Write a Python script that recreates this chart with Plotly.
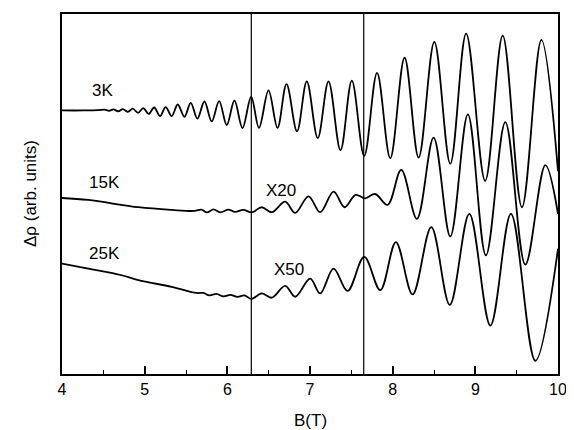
import plotly.graph_objects as go

# ---- data (B in tesla, delta-rho in arbitrary units) ----
b_3k = [4.0, 4.258, 4.439, 4.515, 4.569, 4.623, 4.680, 4.737, 4.797, 4.857, 4.920, 4.983,
        5.048, 5.115, 5.186, 5.254, 5.327, 5.400, 5.481, 5.557, 5.638, 5.723, 5.811, 5.901,
        5.993, 6.086, 6.183, 6.288, 6.383, 6.498, 6.607, 6.716, 6.843, 6.961, 7.094, 7.224,
        7.369, 7.506, 7.656, 7.811, 7.971, 8.144, 8.314, 8.504, 8.697, 8.889, 9.119, 9.331,
        9.564, 9.799, 10.0]
r_3k = [265, 265, 265.3, 265.8, 264.7, 266.0, 264.2, 266.3, 263.6, 266.8, 262.6, 267.4,
        261.5, 268, 259.3, 268.3, 259.3, 271, 258.7, 272.7, 256.7, 274, 254, 274.3,
        250.3, 275, 247.3, 278.7, 247.5, 285.3, 247.5, 291.5, 244, 294.3, 237.2, 294.3,
        225, 295, 219.3, 302.7, 217, 318, 217.7, 334, 211.5, 342.3, 194.3, 340.3,
        167.7, 336, 204]

b_15k = [4.0, 4.318, 4.924, 5.327, 5.602, 5.686, 5.753, 5.832, 5.913, 6.013, 6.094, 6.195,
         6.295, 6.416, 6.538, 6.700, 6.821, 6.982, 7.123, 7.285, 7.418, 7.551, 7.668, 7.789,
         7.938, 8.104, 8.293, 8.495, 8.697, 8.910, 9.128, 9.363, 9.605, 9.847, 10.0]
r_15k = [177, 175, 167.7, 165, 164, 165.3, 162.5, 165.5, 162.5, 165.3, 163, 165,
         162.5, 167.7, 162.7, 173.3, 162, 178.7, 162.7, 183.3, 167.7, 180, 176.7, 181,
         170, 205.3, 156, 237.7, 138.3, 261, 119.3, 253.3, 110, 210, 161]

b_25k = [4.0, 4.318, 4.722, 4.924, 5.327, 5.626, 5.711, 5.783, 5.868, 5.953, 6.038, 6.122,
         6.207, 6.292, 6.416, 6.538, 6.700, 6.821, 7.002, 7.123, 7.285, 7.454, 7.656, 7.850,
         8.039, 8.241, 8.467, 8.691, 8.927, 9.182, 9.431, 9.726, 10.0]
r_25k = [111, 106, 99.3, 94.3, 87.7, 81.5, 81.5, 79, 80.5, 78, 79.5, 77.5,
         79, 75.5, 81, 76.7, 88.7, 77.7, 96, 81, 106, 83.5, 117.7, 84.3,
         132.7, 80, 147.7, 69.5, 161, 48.7, 161, 13.3, 126]

marker_b = [6.29, 7.65]          # vertical reference lines
x_ticks = [4, 5, 6, 7, 8, 9, 10]

labels = ["3K", "15K", "25K", "X20", "X50"]
label_b = [4.488, 4.512, 4.512, 6.649, 6.740]
label_r = [285, 193, 121, 184.5, 105.5]

FONT = "Liberation Sans, Arial, sans-serif"

fig = go.Figure()
for bx, ry in [(b_3k, r_3k), (b_15k, r_15k), (b_25k, r_25k)]:
    fig.add_trace(go.Scatter(x=bx, y=ry, mode="lines",
                             line=dict(color="black", width=1.8, shape="spline", smoothing=1.0),
                             showlegend=False, hoverinfo="skip"))

for mb in marker_b:
    fig.add_shape(type="line", x0=mb, x1=mb, y0=0, y1=1, xref="x", yref="paper",
                  line=dict(color="black", width=1.2))

for t, bx, ry in zip(labels, label_b, label_r):
    fig.add_annotation(x=bx, y=ry, text=t, showarrow=False,
                       font=dict(family=FONT, size=17, color="black"),
                       xanchor="center", yanchor="middle")

fig.add_annotation(xref="paper", yref="paper", x=-0.0645, y=0.5, text="Δρ (arb. units)",
                   textangle=-90, showarrow=False, xanchor="center", yanchor="middle",
                   font=dict(family=FONT, size=17, color="black"))
fig.add_annotation(xref="paper", yref="paper", x=0.5, y=-0.13, text="B(T)",
                   showarrow=False, xanchor="center", yanchor="middle",
                   font=dict(family=FONT, size=17, color="black"))

fig.update_layout(
    width=574, height=430,
    margin=dict(l=54, r=24, t=4, b=64),
    paper_bgcolor="white", plot_bgcolor="white",
    font=dict(family=FONT, size=16, color="black"),
    xaxis=dict(range=[4, 10], tickvals=x_ticks, ticktext=[str(v) for v in x_ticks],
               ticks="inside", ticklen=8, tickwidth=1.5, tickcolor="black",
               minor=dict(dtick=0.5, ticks="inside", ticklen=4, tickwidth=1.2, tickcolor="black"),
               showline=True, linecolor="black", linewidth=2, mirror=True,
               showgrid=False, zeroline=False, tickfont=dict(size=16)),
    yaxis=dict(range=[0, 362], showticklabels=False, ticks="",
               showline=True, linecolor="black", linewidth=2, mirror=True,
               showgrid=False, zeroline=False),
)

fig.write_html("out.html")
